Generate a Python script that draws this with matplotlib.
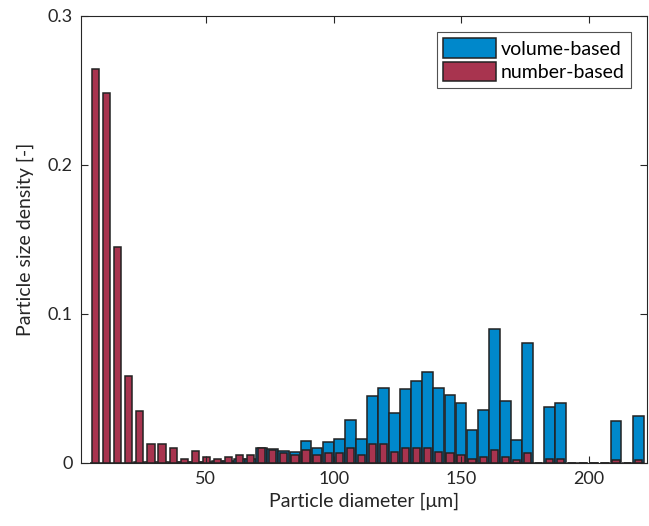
import numpy as np
import matplotlib
matplotlib.use('Agg')
import matplotlib.pyplot as plt

plt.rcParams['font.family'] = ['Lato', 'DejaVu Sans']

# bin centres of the diameter histogram [um]
diameters = [6.8, 11.1, 15.5, 19.8, 24.1, 28.5, 32.8, 37.2, 41.5, 45.8,
             50.2, 54.5, 58.8, 63.2, 67.5, 71.8, 76.2, 80.5, 84.9, 89.2,
             93.5, 97.9, 102.2, 106.5, 110.9, 115.2, 119.6, 123.9, 128.2, 132.6,
             136.9, 141.2, 145.6, 149.9, 154.2, 158.6, 162.9, 167.3, 171.6, 175.9,
             180.3, 184.6, 188.9, 193.3, 197.6, 202.0, 206.3, 210.6, 215.0, 219.3]

volume_based = [0.0001, 0.0002, 0.0003, 0.0003, 0.0004, 0.0005, 0.0006, 0.0008, 0.0006, 0.0009,
                0.0008, 0.0010, 0.0015, 0.0025, 0.0030, 0.0099, 0.0092, 0.0081, 0.0074, 0.0148,
                0.0098, 0.0141, 0.0159, 0.0286, 0.0163, 0.0452, 0.0505, 0.0338, 0.0499, 0.0553,
                0.0609, 0.0501, 0.0456, 0.0401, 0.0219, 0.0356, 0.0897, 0.0418, 0.0152, 0.0808,
                0.0, 0.0376, 0.0401, 0.0, 0.0, 0.0, 0.0, 0.0280, 0.0, 0.0315]

number_based = [0.2642, 0.2481, 0.1452, 0.0586, 0.0351, 0.0128, 0.0128, 0.0103, 0.0029, 0.0078,
                0.0042, 0.0029, 0.0042, 0.0054, 0.0054, 0.0103, 0.0087, 0.0065, 0.0054, 0.0089,
                0.0054, 0.0065, 0.0065, 0.0103, 0.0054, 0.0128, 0.0128, 0.0076, 0.0103, 0.0103,
                0.0103, 0.0076, 0.0065, 0.0051, 0.0027, 0.0040, 0.0089, 0.0040, 0.0018, 0.0065,
                0.0, 0.0027, 0.0027, 0.0, 0.0, 0.0, 0.0, 0.0018, 0.0, 0.0018]

x = np.array(diameters)
step = x[1] - x[0]

fig = plt.figure(figsize=(6.49, 5.26), dpi=100)
ax = fig.add_axes([0.1248, 0.1198, 0.8721, 0.8498])

ax.bar(x, volume_based, width=step * 0.98, color='#0088CB',
       edgecolor='#222222', linewidth=1.1, label='volume-based')
ax.bar(x, number_based, width=step * 0.66, color='#A8344F',
       edgecolor='#222222', linewidth=1.1, label='number-based')

ax.set_xlim(1.1, 222.7)
ax.set_ylim(0, 0.3)
ax.set_xticks([50, 100, 150, 200])
ax.set_yticks([0, 0.1, 0.2, 0.3])
ax.set_yticklabels(['0', '0.1', '0.2', '0.3'])
ax.tick_params(direction='in', length=5, width=0.8, colors='#262626',
               labelsize=13, top=True, right=True, labelcolor='#262626', pad=6)
for s in ax.spines.values():
    s.set_color('#262626')
    s.set_linewidth(0.8)

ax.set_xlabel('Particle diameter [\u03bcm]', fontsize=14, color='#262626', labelpad=4)
ax.set_ylabel('Particle size density [-]', fontsize=14, color='#262626', labelpad=10)

leg = ax.legend(loc='upper right', fontsize=14, frameon=True, fancybox=False,
                edgecolor='#262626', handlelength=2.7, handleheight=1.15,
                handletextpad=0.25, borderpad=0.35, labelspacing=0.2,
                borderaxespad=0.8)
leg.get_frame().set_linewidth(0.8)

fig.savefig('out.png', dpi=100)
